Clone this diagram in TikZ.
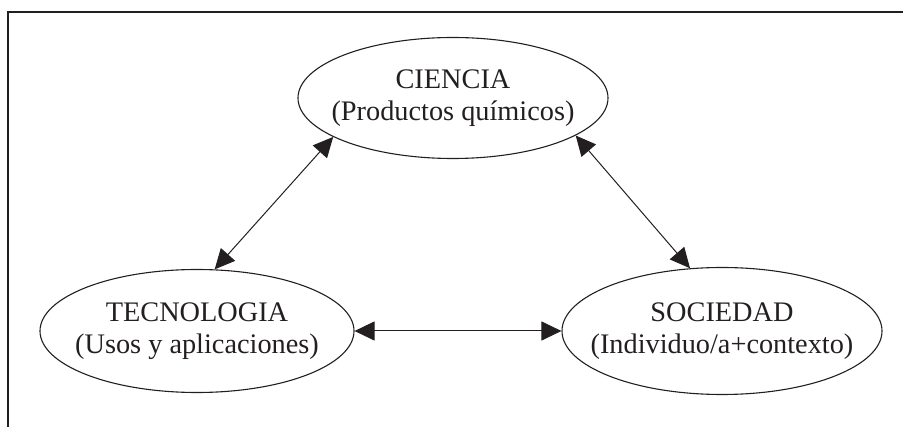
\documentclass[tikz,border=0pt]{standalone}
\usepackage{fontspec}
\setmainfont{Liberation Serif}
\usetikzlibrary{shapes.geometric,arrows.meta}
\definecolor{ink}{HTML}{231F20}
\begin{document}
\begin{tikzpicture}[x=1pt,y=-1pt,
  ell/.style={ellipse,draw=ink,line width=1.1pt,inner sep=0pt},
  lbl/.style={align=center,inner sep=0pt,font=\fontsize{28.3}{32}\selectfont,text=ink},
  conn/.style={draw=ink,line width=1pt,{Triangle[length=20pt,width=19pt]}-{Triangle[length=20pt,width=19pt]}},
  frame/.style={line width=1.6pt,draw=ink}]
\useasboundingbox (0,0) rectangle (903,427);
\draw[frame] (8,427) -- (8,12) -- (903,12);
\node[ell,minimum width=310pt,minimum height=121pt] (c) at (453,98) {};
\node[ell,minimum width=314pt,minimum height=123pt] (t) at (197,331) {};
\node[ell,minimum width=320pt,minimum height=127pt] (s) at (722,331) {};
\node[lbl] (cl) at (c.center) {CIENCIA\\(Productos químicos)};
\node[lbl] (tl) at (t.center) {TECNOLOGIA\\(Usos y aplicaciones)};
\node[lbl] (sl) at (s.center) {SOCIEDAD\\(Individuo/a+contexto)};
\draw[conn] (c.198) -- (t.74);
\draw[conn] (c.343) -- (s.117);
\draw[conn] (t.east) -- (s.west);
\end{tikzpicture}
\end{document}
